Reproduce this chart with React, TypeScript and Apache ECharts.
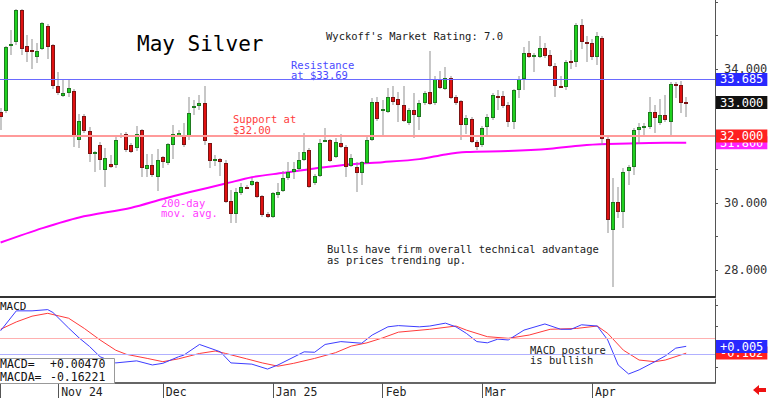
import React, { useEffect, useRef } from "react";
import * as echarts from "echarts";

// ---- price data (daily candles, Oct 2024 - Apr 2025) ----
const opens = [
  32.72, 32.75, 34.70, 34.81, 35.76, 34.69, 34.58, 34.36, 34.60, 35.28,
  34.72, 33.49, 33.19, 33.28, 33.34, 31.88, 32.60, 32.15, 31.49, 31.73,
  30.99, 31.16, 31.13, 31.98, 32.06, 31.73, 31.64, 32.18, 31.01, 31.13,
  30.78, 31.37, 31.19, 31.73, 32.00, 32.03, 31.97, 32.86, 32.90, 32.99,
  31.79, 31.28, 31.31, 31.19, 30.06, 29.67, 30.30, 30.49, 30.54, 30.63,
  30.21, 29.67, 29.58, 30.24, 30.36, 30.75, 30.93, 31.01, 31.28, 31.58,
  30.60, 30.81, 31.86, 31.88, 31.37, 31.79, 31.67, 31.10, 31.07, 30.90,
  31.19, 31.88, 33.01, 32.76, 32.72, 33.16, 33.10, 32.93, 32.39, 32.78,
  32.57, 32.99, 33.31, 32.99, 33.70, 33.40, 33.73, 33.16, 33.04, 32.33,
  32.51, 31.82, 31.73, 32.27, 32.54, 33.20, 33.19, 32.93, 32.42, 33.37,
  33.70, 34.48, 34.41, 34.36, 34.63, 34.42, 34.09, 33.50, 33.46, 34.24,
  34.21, 35.31, 34.81, 34.78, 34.36, 34.93, 31.91, 29.19, 30.03, 29.73,
  30.96, 31.07, 32.18, 32.27, 32.27, 32.72, 32.39, 32.63, 32.42, 33.56,
  33.52, 33.01,
];
const closes = [
  32.57, 34.66, 34.74, 35.76, 34.60, 34.51, 34.56, 34.54, 35.37, 34.66,
  33.49, 33.28, 33.28, 33.43, 31.97, 32.45, 32.15, 31.46, 31.52, 31.28,
  31.34, 31.07, 31.88, 32.02, 31.58, 31.52, 32.06, 31.04, 31.13, 30.84,
  31.28, 31.22, 31.76, 32.06, 32.09, 31.73, 32.69, 32.89, 32.99, 31.85,
  31.25, 31.30, 31.22, 30.03, 29.67, 30.33, 30.48, 30.47, 30.66, 30.18,
  29.64, 29.58, 30.30, 30.33, 30.75, 30.93, 31.01, 31.28, 31.52, 30.48,
  30.81, 31.79, 31.89, 31.25, 31.82, 31.67, 31.07, 31.34, 30.90, 31.22,
  31.88, 33.01, 32.51, 32.80, 33.16, 33.01, 32.93, 32.45, 32.78, 32.63,
  32.99, 33.28, 32.96, 33.70, 33.43, 33.73, 33.13, 32.99, 32.33, 32.54,
  31.82, 31.67, 32.24, 32.57, 33.22, 33.18, 32.90, 32.42, 33.37, 33.70,
  34.48, 34.36, 34.43, 34.63, 34.39, 34.09, 33.49, 33.48, 34.21, 34.18,
  35.31, 34.81, 34.75, 34.36, 34.99, 31.91, 29.49, 30.03, 29.73, 30.93,
  31.07, 32.18, 32.27, 32.30, 32.72, 32.54, 32.63, 32.48, 33.55, 33.54,
  32.99, 33.00,
];
const highs = [
  32.84, 34.70, 35.16, 35.78, 35.78, 35.01, 34.90, 34.78, 35.40, 35.34,
  34.75, 33.91, 33.67, 33.70, 33.40, 32.66, 32.66, 32.27, 31.55, 31.82,
  31.64, 31.43, 31.97, 32.09, 32.12, 31.78, 32.30, 32.22, 31.46, 31.46,
  31.61, 31.40, 31.78, 32.33, 32.18, 32.40, 33.16, 33.07, 33.22, 33.49,
  31.79, 31.43, 31.34, 31.28, 30.39, 30.45, 30.60, 30.55, 30.75, 30.66,
  30.24, 29.73, 30.33, 30.60, 30.96, 31.22, 31.22, 31.52, 32.09, 31.64,
  30.87, 31.91, 32.24, 31.91, 31.94, 32.06, 31.73, 31.46, 31.22, 31.24,
  32.00, 33.13, 33.16, 33.07, 33.43, 33.49, 33.31, 33.49, 32.84, 33.28,
  33.07, 33.34, 34.54, 33.79, 33.94, 34.06, 33.79, 33.22, 33.07, 32.63,
  32.57, 31.88, 32.30, 32.66, 33.28, 33.37, 33.34, 33.01, 33.40, 33.79,
  34.66, 34.84, 34.48, 34.99, 34.78, 34.57, 34.18, 33.79, 34.27, 34.57,
  35.37, 35.49, 35.00, 34.90, 35.10, 35.00, 32.00, 30.75, 30.48, 31.05,
  31.13, 32.24, 32.39, 32.39, 33.16, 32.93, 33.10, 33.22, 33.61, 33.61,
  33.64, 33.16,
];
const lows = [
  32.18, 32.70, 34.42, 34.72, 34.42, 34.21, 34.00, 34.18, 34.57, 34.30,
  33.40, 33.22, 33.16, 33.16, 31.67, 31.64, 32.10, 31.22, 30.93, 30.99,
  30.48, 31.04, 31.04, 31.94, 31.52, 31.48, 31.55, 30.78, 30.78, 30.78,
  30.36, 31.04, 31.13, 31.31, 31.97, 31.67, 31.88, 32.64, 32.78, 31.73,
  31.04, 31.10, 30.81, 30.00, 29.40, 29.40, 30.24, 30.42, 30.51, 30.15,
  29.58, 29.55, 29.55, 30.15, 30.33, 30.69, 30.72, 30.96, 31.25, 30.45,
  30.54, 30.78, 31.82, 31.22, 31.34, 31.64, 30.78, 31.07, 30.33, 30.54,
  31.16, 31.85, 32.45, 31.97, 32.69, 32.93, 32.42, 32.42, 32.33, 31.94,
  32.18, 32.93, 32.93, 32.93, 33.40, 33.37, 33.10, 32.93, 31.88, 32.05,
  31.79, 31.58, 31.67, 31.97, 32.48, 32.78, 32.84, 32.27, 32.21, 33.13,
  33.37, 34.33, 33.91, 34.33, 34.33, 34.06, 33.16, 33.46, 33.37, 34.00,
  34.06, 34.60, 34.21, 34.27, 34.13, 31.73, 29.10, 27.49, 29.55, 29.25,
  30.54, 30.84, 31.76, 31.97, 32.21, 32.09, 32.33, 32.42, 32.03, 33.13,
  32.69, 32.57,
];

// 200-day moving average, read at sampled candle indices
const ma200Points: [number, number][] = [
  [0, 28.82], [8, 29.25], [15, 29.57], [25, 29.86], [31, 30.12], [36, 30.32],
  [43, 30.58], [48, 30.77], [54, 30.9], [60, 31.03], [67, 31.16], [73, 31.22],
  [80, 31.31], [85, 31.45], [89, 31.52], [97, 31.55], [105, 31.62], [111, 31.72],
  [116, 31.76], [124, 31.79], [131, 31.8],
];

// MACD (blue) and its average (red), read at sampled candle indices
const macdPoints: [number, number][] = [
  [0, 0.385], [3, 0.87], [6, 0.87], [9, 0.9], [10, 0.83], [13, 0.45], [15, 0.21],
  [17, 0.0], [19, -0.25], [22, -0.4], [26, -0.35], [29, -0.45], [31, -0.41],
  [34, -0.25], [35, -0.21], [38, 0.05], [40, -0.04], [42, -0.13], [44, -0.4],
  [48, -0.43], [51, -0.55], [53, -0.45], [58, -0.13], [60, -0.14], [62, 0.05],
  [65, 0.12], [69, 0.08], [71, 0.28], [74, 0.48], [76, 0.51], [80, 0.48],
  [82, 0.5], [85, 0.57], [87, 0.48], [89, 0.32], [91, 0.12], [93, 0.09],
  [95, 0.18], [97, 0.16], [100, 0.4], [104, 0.55], [107, 0.42], [109, 0.42],
  [111, 0.53], [114, 0.5], [116, 0.16], [118, -0.45], [120, -0.67], [122, -0.57],
  [125, -0.37], [127, -0.23], [129, -0.04], [131, 0.0047],
];
const signalPoints: [number, number][] = [
  [0, 0.42], [3, 0.6], [6, 0.74], [9, 0.81], [13, 0.69], [16, 0.44], [19, 0.16],
  [22, -0.09], [24, -0.19], [28, -0.29], [31, -0.37], [34, -0.3], [38, -0.17],
  [41, -0.11], [43, -0.17], [47, -0.3], [50, -0.4], [53, -0.48], [56, -0.41],
  [60, -0.29], [64, -0.15], [67, 0.01], [70, 0.09], [73, 0.21], [76, 0.35],
  [82, 0.42], [87, 0.5], [89, 0.4], [93, 0.24], [97, 0.2], [101, 0.28],
  [105, 0.42], [110, 0.44], [114, 0.5], [116, 0.32], [119, -0.09], [122, -0.33],
  [125, -0.37], [127, -0.33], [131, -0.16221],
];

const monthLabels: { index: number; text: string }[] = [
  { index: 11, text: "Nov 24" },
  { index: 31, text: "Dec" },
  { index: 52, text: "Jan 25" },
  { index: 73, text: "Feb" },
  { index: 92, text: "Mar" },
  { index: 113, text: "Apr" },
];

const priceTickValues = [28, 29, 30, 31, 32, 33, 34, 35, 36];
const priceLabelValues = [28, 30, 34];
const macdTickValues = [-0.5, 0, 0.5, 1.0];

const resistance = 33.685;
const support = 32.0;
const lastPrice = 33.0;
const maLast = 31.8;
const macdLast = 0.0047;
const signalLast = -0.16221;
const macdBandHigh = 0.2;
const macdBandLow = -0.2;

const EMPTY_SLOTS = 5;

const MONO = "'DejaVu Sans Mono', monospace";
const HIDDEN_LINE = { color: "rgba(0,0,0,0)", width: 1, type: "solid" };

export default function App() {
  const ref = useRef<HTMLDivElement>(null);

  useEffect(() => {
    if (!ref.current) return;
    const chart = echarts.init(ref.current, undefined, { renderer: "svg" });

    const n = opens.length + EMPTY_SLOTS;
    const categories = Array.from({ length: n }, (_, i) => String(i));
    const candles = opens.map((o, i) => [i, o, closes[i], lows[i], highs[i]]);
    const monthSet = new Set(monthLabels.map((m) => m.index));
    const tickSet = new Set([0, ...monthLabels.map((m) => m.index)]);
    const monthText: Record<number, string> = {};
    monthLabels.forEach((m) => (monthText[m.index] = m.text));

    const boxLabel = (text: string, bg: string) => ({
      show: true,
      position: "end",
      formatter: text,
      color: "#fff",
      backgroundColor: bg,
      fontFamily: MONO,
      fontSize: 12,
      padding: [1, 4, 0, 4],
      distance: 1,
    });

    const text = (
      x: number,
      y: number,
      t: string,
      size: number,
      fill: string,
      lh?: number
    ) => ({
      type: "text",
      x,
      y,
      z: 50,
      style: {
        text: t,
        fill,
        font: `${size}px ${MONO}`,
        verticalAlign: lh ? "top" : "middle",
        lineHeight: lh,
      },
    });

    const option: any = {
      animation: false,
      backgroundColor: "#ffffff",
      grid: [
        { left: -2, right: 53, top: 0, height: 297, containLabel: false, outerBoundsMode: "none" },
        { left: -2, right: 53, top: 299, height: 84, containLabel: false, outerBoundsMode: "none" },
      ],
      xAxis: [
        {
          type: "category",
          gridIndex: 0,
          data: categories,
          boundaryGap: true,
          axisLine: { show: true, onZero: false, lineStyle: { color: "#333", width: 2 } },
          axisTick: { show: false },
          axisLabel: { show: false },
          splitLine: { show: false },
        },
        {
          type: "category",
          gridIndex: 1,
          data: categories,
          boundaryGap: true,
          axisLine: { show: true, onZero: false, lineStyle: { color: "#333", width: 1.5 } },
          axisTick: {
            show: true,
            alignWithLabel: true,
            interval: (i: number) => tickSet.has(i),
            length: 15,
            lineStyle: { color: "#555", width: 1 },
          },
          axisLabel: {
            show: true,
            interval: (i: number) => monthSet.has(i),
            formatter: (_v: string, i: number) => monthText[i] || "",
            align: "left",
            margin: 3,
            padding: [0, 0, 0, 3],
            fontFamily: MONO,
            fontSize: 11.5,
            color: "#222",
          },
          splitLine: { show: false },
        },
      ],
      yAxis: [
        {
          type: "value",
          gridIndex: 0,
          position: "right",
          min: 27.194,
          max: 36.06,
          axisLine: { show: true, lineStyle: { color: "#555" } },
          axisTick: { show: true, customValues: priceTickValues, length: 3, lineStyle: { color: "#555" } },
          axisLabel: {
            show: true,
            customValues: priceLabelValues,
            formatter: (v: number) => v.toFixed(3),
            margin: 9,
            fontFamily: MONO,
            fontSize: 12,
            color: "#333",
          },
          splitLine: { show: false },
        },
        {
          type: "value",
          gridIndex: 1,
          position: "right",
          min: -0.89,
          max: 1.159,
          axisLine: { show: true, lineStyle: { color: "#555" } },
          axisTick: { show: true, customValues: macdTickValues, length: 3, lineStyle: { color: "#555" } },
          axisLabel: { show: false },
          splitLine: { show: false },
        },
      ],
      series: [
        {
          name: "levels",
          type: "line",
          xAxisIndex: 0,
          yAxisIndex: 0,
          data: [],
          z: 1,
          markLine: {
            silent: true,
            symbol: "none",
            animation: false,
            data: [
              { yAxis: resistance, lineStyle: { color: "#6a6aff", width: 1.2, type: "solid", opacity: 1 }, label: { show: false } },
              { yAxis: support, lineStyle: { color: "#ff9a9a", width: 2, type: "solid" }, label: { show: false } },
            ],
          },
        },
        {
          name: "200-day",
          type: "line",
          xAxisIndex: 0,
          yAxisIndex: 0,
          data: ma200Points,
          showSymbol: false,
          smooth: 0.3,
          connectNulls: true,
          lineStyle: { color: "#ff00ff", width: 2 },
          z: 2,
          markLine: {
            silent: true,
            symbol: "none",
            animation: false,
            data: [
              { yAxis: maLast, lineStyle: HIDDEN_LINE, label: boxLabel("31.800", "#ff22ff") },
              { yAxis: support, lineStyle: HIDDEN_LINE, label: boxLabel("32.000", "#ff2020") },
              { yAxis: lastPrice, lineStyle: HIDDEN_LINE, label: boxLabel("33.000", "#111111") },
              { yAxis: resistance, lineStyle: HIDDEN_LINE, label: boxLabel("33.685", "#2828ff") },
            ],
          },
        },
        {
          name: "candles",
          type: "custom",
          xAxisIndex: 0,
          yAxisIndex: 0,
          z: 3,
          data: candles,
          encode: { x: 0, y: [1, 2, 3, 4] },
          renderItem: (_p: any, api: any) => {
            const idx = api.value(0);
            const o = api.value(1);
            const c = api.value(2);
            const l = api.value(3);
            const h = api.value(4);
            const pH = api.coord([idx, h]);
            const pL = api.coord([idx, l]);
            const pO = api.coord([idx, o]);
            const pC = api.coord([idx, c]);
            const up = c >= o;
            const x0 = Math.round(pH[0] - 2);
            const yTop = Math.round(Math.min(pO[1], pC[1]));
            let hgt = Math.round(Math.max(pO[1], pC[1])) - yTop;
            if (hgt < 2) hgt = 2;
            const children: any[] = [
              {
                type: "rect",
                shape: { x: x0 + 1.5, y: Math.round(pH[1]), width: 1, height: Math.round(pL[1]) - Math.round(pH[1]) },
                style: { fill: "#8f8f8f" },
              },
              {
                type: "rect",
                shape: { x: x0, y: yTop, width: 4, height: hgt },
                style: { fill: up ? "#1f7a1f" : "#7a1414" },
              },
            ];
            if (hgt > 2) {
              children.push({
                type: "rect",
                shape: { x: x0 + 1, y: yTop + 1, width: 2, height: hgt - 2 },
                style: { fill: up ? "#1fd11f" : "#e01010" },
              });
            }
            return { type: "group", children };
          },
        },
        {
          name: "MACDA",
          type: "line",
          xAxisIndex: 1,
          yAxisIndex: 1,
          data: signalPoints,
          showSymbol: false,
          connectNulls: true,
          lineStyle: { color: "#ff3a3a", width: 1 },
          z: 3,
          markLine: {
            silent: true,
            symbol: "none",
            animation: false,
            data: [
              { yAxis: macdBandHigh, lineStyle: { color: "#ffb0b0", width: 1, type: "solid" }, label: { show: false } },
              { yAxis: macdBandLow, lineStyle: { color: "#b0b0ff", width: 1, type: "solid" }, label: { show: false } },
              { yAxis: signalLast, lineStyle: HIDDEN_LINE, label: boxLabel("-0.162", "#ff2020") },
              { yAxis: macdLast, lineStyle: HIDDEN_LINE, label: boxLabel("+0.005", "#2828ff") },
            ],
          },
        },
        {
          name: "MACD",
          type: "line",
          xAxisIndex: 1,
          yAxisIndex: 1,
          data: macdPoints,
          showSymbol: false,
          connectNulls: true,
          lineStyle: { color: "#3c3cff", width: 1 },
          z: 4,
        },
      ],
      graphic: [
        text(137, 43.5, "May Silver", 21, "#000"),
        text(326, 35.5, "Wyckoff's Market Rating: 7.0", 10.5, "#222"),
        text(291, 59.25, "Resistance\nat $33.69", 10.5, "#4a4aff", 10.5),
        text(233, 113.75, "Support at\n$32.00", 10.5, "#ff3c3c", 10.5),
        text(161, 197.7, "200-day\nmov. avg.", 10.5, "#ff3cff", 10.5),
        text(327, 243.75, "Bulls have firm overall technical advantage\nas prices trending up.", 10.5, "#222", 10.5),
        text(530, 344.25, "MACD posture\nis bullish", 10.5, "#222", 10.5),
        text(0, 306, "MACD", 11, "#111"),
        {
          type: "rect",
          z: 60,
          shape: { x: -1.5, y: 358.5, width: 116, height: 25 },
          style: { fill: "#fff", stroke: "#999", lineWidth: 1 },
        },
        { ...text(0, 363.5, "MACD=", 11.5, "#111"), z: 61 },
        { ...text(50, 363.5, "+0.00470", 11.5, "#111"), z: 61 },
        { ...text(0, 376.7, "MACDA=", 11.5, "#111"), z: 61 },
        { ...text(50, 376.7, "-0.16221", 11.5, "#111"), z: 61 },
        {
          type: "polygon",
          z: 50,
          shape: {
            points: [
              [753, 390], [759, 385], [759, 388], [766, 388], [766, 392], [759, 392], [759, 395],
            ],
          },
          style: { fill: "#ee1111" },
        },
      ],
    };

    chart.setOption(option);
    return () => chart.dispose();
  }, []);

  return (
    <div
      ref={ref}
      style={{ position: "absolute", left: 0, top: 0, width: 768, height: 398 }}
    />
  );
}
